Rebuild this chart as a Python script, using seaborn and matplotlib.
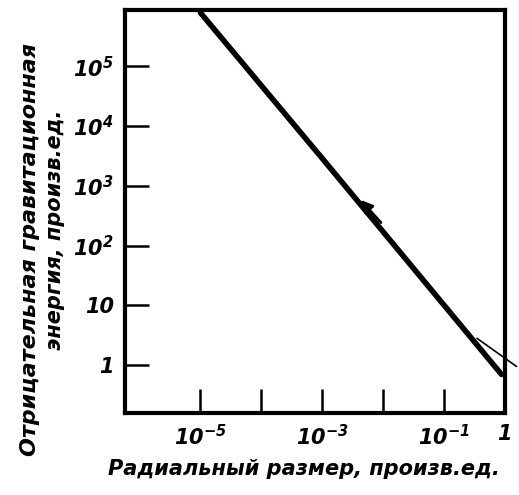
import numpy as np
import pandas as pd
import matplotlib
matplotlib.use("Agg")
import matplotlib.pyplot as plt
import seaborn as sns

# Data (log-log)
radius = [1e-5, 1e-3, 0.9]
energy = [7.8e5, 2.9e3, 0.7]
tangent_r = [10 ** -0.45, 10 ** 0.2]
tangent_e = [10 ** 0.45, 10 ** -0.02]

xticks = [1e-5, 1e-4, 1e-3, 1e-2, 1e-1, 1]
xticklabels = ["$10^{-5}$", "", "$10^{-3}$", "", "$10^{-1}$", "1"]
yticks = [1, 10, 1e2, 1e3, 1e4, 1e5]
yticklabels = ["1", "10", "$10^{2}$", "$10^{3}$", "$10^{4}$", "$10^{5}$"]

sns.set_theme(style="white")
plt.rcParams["font.family"] = ["DejaVu Sans"]
plt.rcParams["text.color"] = "black"
plt.rcParams["axes.labelcolor"] = "black"
plt.rcParams["mathtext.fontset"] = "custom"
plt.rcParams["mathtext.rm"] = "DejaVu Sans:italic:bold"
plt.rcParams["mathtext.it"] = "DejaVu Sans:italic:bold"

df = pd.DataFrame({"r": radius, "e": energy})

fig = plt.figure(figsize=(5.19, 4.95), dpi=100)
ax = fig.add_axes([0.241, 0.166, 0.732, 0.814])

sns.lineplot(data=df, x="r", y="e", ax=ax, color="black", linewidth=4)
ax.plot(tangent_r, tangent_e, color="black", linewidth=1.2, clip_on=False)

ax.set_xscale("log")
ax.set_yscale("log")
ax.set_xlim(10 ** -6.24, 10 ** 0.01)
ax.set_ylim(10 ** -0.795, 10 ** 5.94)

# arrow on the line pointing toward smaller radius
ax.annotate("", xy=(10 ** -2.4, 10 ** 2.8), xytext=(10 ** -2.0, 10 ** 2.35),
            arrowprops=dict(arrowstyle="-|>", color="black", lw=2, mutation_scale=18))

ax.set_xticks(xticks)
ax.set_xticklabels(xticklabels)
ax.set_yticks(yticks)
ax.set_yticklabels(yticklabels)
ax.minorticks_off()
ax.tick_params(bottom=True, left=True, direction="in", length=17, width=1.8,
               colors="black", labelsize=15, pad=8)
for lab in ax.get_xticklabels() + ax.get_yticklabels():
    lab.set_fontstyle("italic")
    lab.set_fontweight("bold")

for side in ["left", "right", "top", "bottom"]:
    ax.spines[side].set_visible(True)
    ax.spines[side].set_color("black")
    ax.spines[side].set_linewidth(3)

ax.set_xlabel("")
ax.set_ylabel("")
fig.text(0.585, 0.052, "Радиальный размер, произв.ед.", fontsize=15,
         fontstyle="italic", fontweight="bold", ha="center", va="center")
fig.text(0.058, 0.495, "Отрицательная гравитационная", rotation=90,
         fontsize=16, fontstyle="italic", fontweight="bold",
         ha="center", va="center")
fig.text(0.106, 0.535, "энергия, произв.ед.", rotation=90,
         fontsize=15, fontstyle="italic", fontweight="bold",
         ha="center", va="center")

fig.savefig("out.png", dpi=100, facecolor="white")
